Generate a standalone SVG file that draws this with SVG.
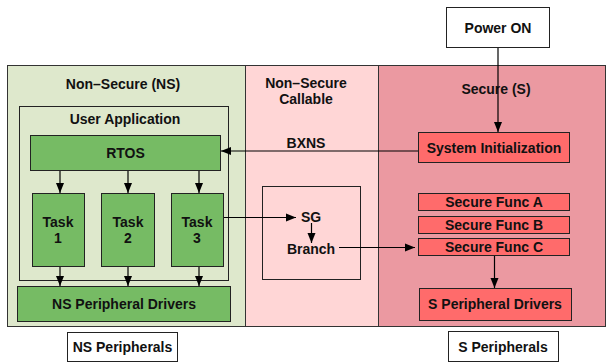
<svg xmlns="http://www.w3.org/2000/svg" width="607" height="364" viewBox="0 0 607 364">
<style>
text{font-family:"Liberation Sans",Arial,sans-serif;font-weight:bold;font-size:14px;fill:#111;text-anchor:middle;dominant-baseline:central}
.reg{stroke:#333;stroke-width:1}
.box{stroke:#222;stroke-width:1}
.g{fill:#76bb64}
.r{fill:#ff6b6b}
.w{fill:#fff}
.c{stroke:#000;stroke-width:1.2;fill:none;marker-end:url(#ah)}
</style>
<defs>
<marker id="ah" markerUnits="userSpaceOnUse" markerWidth="10" markerHeight="10" viewBox="0 0 10 10" refX="10" refY="5" orient="auto">
<path d="M0,1 L10,5 L0,9 Z" fill="#000"/>
</marker>
</defs>
<rect width="607" height="364" fill="#fff"/>
<g id="ns-region"><rect class="reg" x="7.5" y="65.5" width="238" height="261" fill="#dee8cc"/><text x="123" y="84">Non–Secure (NS)</text></g>
<g id="nsc-region"><rect class="reg" x="245.5" y="65.5" width="133" height="261" fill="#ffd6d6"/><text x="306" y="83">Non–Secure</text><text x="306" y="99">Callable</text></g>
<g id="s-region"><rect class="reg" x="378.5" y="65.5" width="227" height="261" fill="#eb99a1"/><text x="496" y="89">Secure (S)</text></g>
<g id="user-app"><rect class="box" x="19.5" y="106.5" width="209" height="174" fill="none"/><text x="125" y="119">User Application</text></g>
<g id="rtos"><rect class="box g" x="30.5" y="135.5" width="190" height="35"/><text x="125.5" y="153">RTOS</text></g>
<g id="task1"><rect class="box g" x="32.5" y="193.5" width="52" height="73"/><text x="58" y="222">Task</text><text x="58" y="238">1</text></g>
<g id="task2"><rect class="box g" x="101.5" y="193.5" width="53" height="73"/><text x="128" y="222">Task</text><text x="128" y="238">2</text></g>
<g id="task3"><rect class="box g" x="171.5" y="193.5" width="52" height="73"/><text x="197" y="222">Task</text><text x="197" y="238">3</text></g>
<g id="ns-drivers"><rect class="box g" x="17.5" y="286.5" width="213" height="35"/><text x="124" y="304">NS Peripheral Drivers</text></g>
<g id="ns-peripherals"><rect class="box w" x="67.5" y="332.5" width="110" height="29"/><text x="122.5" y="347">NS Peripherals</text></g>
<g id="power-on"><rect class="box w" x="446.5" y="7.5" width="103" height="40"/><text x="498" y="28">Power ON</text></g>
<g id="sys-init"><rect class="box r" x="418.5" y="132.5" width="151" height="30"/><text x="494" y="148">System Initialization</text></g>
<g id="sg-box"><rect class="box" x="262.5" y="186.5" width="98" height="93" fill="none"/><text x="311" y="217">SG</text><text x="311" y="249">Branch</text></g>
<g id="func-a"><rect class="box r" x="418.5" y="193.5" width="151" height="17"/><text x="494" y="202">Secure Func A</text></g>
<g id="func-b"><rect class="box r" x="418.5" y="216.5" width="151" height="17"/><text x="494" y="225">Secure Func B</text></g>
<g id="func-c"><rect class="box r" x="418.5" y="238.5" width="151" height="17"/><text x="494" y="247">Secure Func C</text></g>
<g id="s-drivers"><rect class="box r" x="419.5" y="288.5" width="152" height="32"/><text x="495" y="304">S Peripheral Drivers</text></g>
<g id="s-peripherals"><rect class="box w" x="448.5" y="331.5" width="110" height="30"/><text x="503" y="347">S Peripherals</text></g>
<g id="connectors">
<path class="c" d="M498,48 V132"/>
<path class="c" d="M418,151 H221"/>
<text x="306" y="143">BXNS</text>
<path class="c" d="M60,171 V193"/>
<path class="c" d="M128,171 V193"/>
<path class="c" d="M199,171 V193"/>
<path class="c" d="M60,267 V286"/>
<path class="c" d="M128,267 V286"/>
<path class="c" d="M199,267 V286"/>
<path class="c" d="M224,217.5 H296"/>
<path class="c" d="M311.5,223 V243"/>
<path class="c" d="M339,247.5 H415"/>
<path class="c" d="M494.5,256 V288"/>
</g>
</svg>
